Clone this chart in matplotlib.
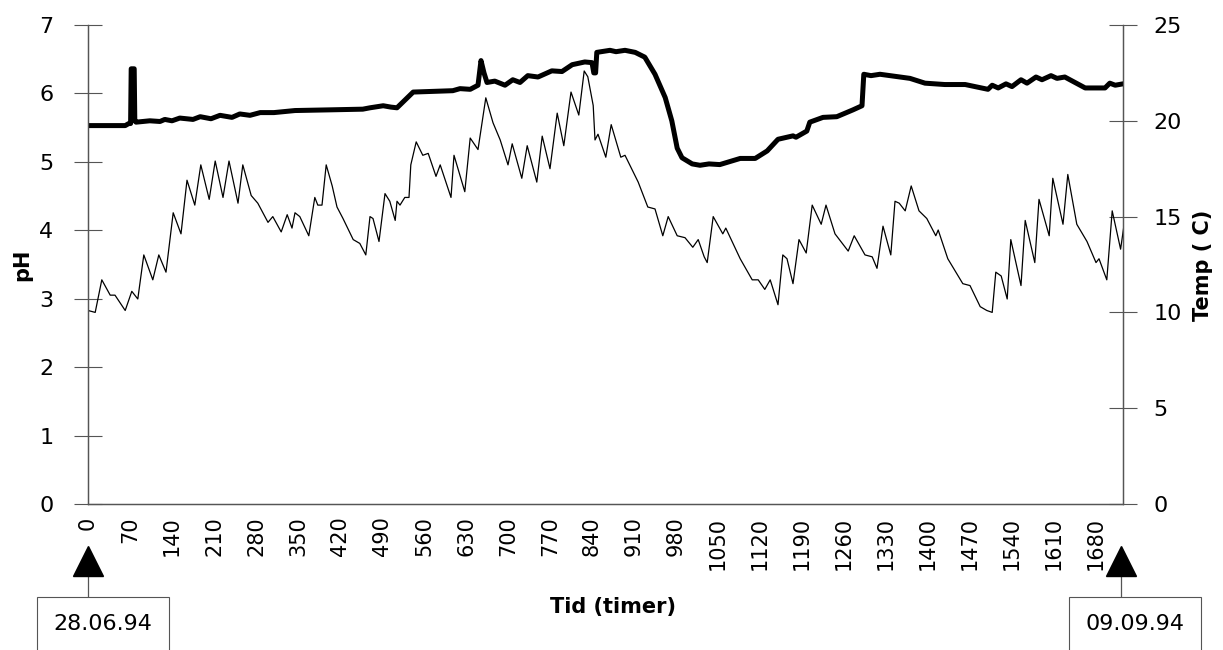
import matplotlib
matplotlib.use("Agg")
import matplotlib.pyplot as plt
import matplotlib.transforms as mtransforms

# ---- data -------------------------------------------------------------
ph_hours = [0, 62, 68, 71, 72, 77, 78, 80, 103, 120, 128, 140, 153, 175, 187, 205,
            220, 240, 253, 270, 287, 310, 345, 403, 458, 470, 492, 505, 515, 542,
            608, 620, 637, 650, 655, 660, 665, 678, 695, 708, 720, 733, 750, 773,
            790, 807, 828, 840, 843, 846, 848, 870, 880, 895, 912, 928, 945, 962,
            973, 982, 990, 1007, 1020, 1035, 1053, 1087, 1112, 1132, 1150, 1175,
            1180, 1198, 1203, 1225, 1248, 1275, 1290, 1293, 1305, 1320, 1370, 1395,
            1428, 1462, 1500, 1507, 1517, 1530, 1540, 1555, 1565, 1580, 1590, 1605,
            1615, 1628, 1645, 1662, 1695, 1703, 1712, 1725]
ph_values = [5.53, 5.53, 5.56, 5.56, 6.36, 6.36, 5.6, 5.58, 5.6, 5.59, 5.62, 5.6,
             5.64, 5.62, 5.66, 5.63, 5.68, 5.65, 5.7, 5.68, 5.72, 5.72, 5.75, 5.76,
             5.77, 5.79, 5.82, 5.8, 5.79, 6.02, 6.04, 6.07, 6.06, 6.12, 6.48, 6.3,
             6.16, 6.18, 6.12, 6.2, 6.16, 6.26, 6.24, 6.33, 6.32, 6.42, 6.46, 6.45,
             6.3, 6.3, 6.6, 6.63, 6.61, 6.63, 6.6, 6.53, 6.28, 5.94, 5.6, 5.2, 5.06,
             4.97, 4.95, 4.97, 4.96, 5.05, 5.05, 5.16, 5.33, 5.38, 5.36, 5.45, 5.58,
             5.65, 5.66, 5.76, 5.82, 6.28, 6.26, 6.28, 6.22, 6.15, 6.13, 6.13, 6.06,
             6.12, 6.08, 6.14, 6.1, 6.2, 6.15, 6.24, 6.2, 6.26, 6.22, 6.24, 6.16,
             6.08, 6.08, 6.15, 6.12, 6.14]

temp_hours = [0, 12, 23, 37, 45, 62, 73, 83, 93, 108, 118, 130, 142, 155, 165, 178,
              188, 202, 212, 225, 235, 250, 258, 272, 283, 300, 308, 322, 332, 340,
              345, 353, 362, 368, 378, 383, 390, 397, 407, 415, 425, 442, 453, 463,
              470, 475, 485, 495, 503, 512, 515, 520, 528, 535, 538, 547, 558, 567,
              580, 587, 605, 610, 628, 637, 650, 663, 675, 687, 700, 707, 723, 732,
              748, 757, 770, 782, 793, 805, 818, 827, 833, 842, 845, 850, 863, 872,
              888, 895, 917, 933, 945, 958, 967, 982, 995, 1008, 1017, 1027, 1032,
              1042, 1058, 1063, 1087, 1107, 1117, 1128, 1137, 1150, 1158, 1165, 1175,
              1185, 1197, 1207, 1222, 1230, 1245, 1267, 1277, 1295, 1307, 1315, 1325,
              1338, 1345, 1352, 1362, 1372, 1385, 1398, 1413, 1417, 1433, 1458, 1470,
              1487, 1498, 1507, 1513, 1522, 1532, 1538, 1555, 1562, 1578, 1585, 1602,
              1608, 1625, 1633, 1648, 1665, 1680, 1685, 1698, 1707, 1721, 1726]
temp_values = [10.1, 10.0, 11.7, 10.9, 10.9, 10.1, 11.1, 10.7, 13.0, 11.7, 13.0, 12.1,
               15.2, 14.1, 16.9, 15.6, 17.7, 15.9, 17.9, 16.0, 17.9, 15.7, 17.7, 16.1,
               15.7, 14.7, 15.0, 14.2, 15.1, 14.4, 15.2, 15.0, 14.4, 14.0, 16.0, 15.6,
               15.6, 17.7, 16.6, 15.5, 14.9, 13.8, 13.6, 13.0, 15.0, 14.9, 13.7, 16.2,
               15.8, 14.8, 15.8, 15.6, 16.0, 16.0, 17.7, 18.9, 18.2, 18.3, 17.1, 17.7,
               16.0, 18.2, 16.3, 19.1, 18.5, 21.2, 19.9, 19.0, 17.7, 18.8, 17.0, 18.7,
               16.8, 19.2, 17.5, 20.4, 18.7, 21.5, 20.3, 22.6, 22.3, 20.8, 19.0, 19.3,
               18.1, 19.8, 18.1, 18.2, 16.8, 15.5, 15.4, 14.0, 15.0, 14.0, 13.9, 13.4,
               13.8, 12.9, 12.6, 15.0, 14.1, 14.4, 12.8, 11.7, 11.7, 11.2, 11.7, 10.4,
               13.0, 12.8, 11.5, 13.8, 13.1, 15.6, 14.6, 15.6, 14.1, 13.2, 14.0, 13.0,
               12.9, 12.3, 14.5, 13.0, 15.8, 15.7, 15.3, 16.6, 15.3, 14.9, 14.0, 14.3,
               12.8, 11.5, 11.4, 10.3, 10.1, 10.0, 12.1, 11.9, 10.7, 13.8, 11.4, 14.8,
               12.6, 15.9, 14.0, 17.0, 14.6, 17.2, 14.6, 13.7, 12.6, 12.8, 11.7, 15.3,
               13.3, 14.4]

x_ticks = list(range(0, 1681, 70))
ph_ticks = [0, 1, 2, 3, 4, 5, 6, 7]
temp_ticks = [0, 5, 10, 15, 20, 25]
start_label = "28.06.94"
end_label = "09.09.94"

# ---- figure -----------------------------------------------------------
W, H = 1223, 650
fig = plt.figure(figsize=(W / 100, H / 100), dpi=100)
plt.rcParams['font.family'] = ['DejaVu Sans']

left_px, right_px, top_px, bottom_px = 88, 1123, 25, 504
ax = fig.add_axes([left_px / W, 1 - bottom_px / H,
                   (right_px - left_px) / W, (bottom_px - top_px) / H])
ax2 = ax.twinx()

spine_col = '#555555'
ax.plot(ph_hours, ph_values, color='black', lw=3.6, solid_joinstyle='round',
        solid_capstyle='round', zorder=3)
ax2.plot(temp_hours, temp_values, color='black', lw=0.9, zorder=2)

ax.set_xlim(0, 1725)
ax.set_ylim(0, 7)
ax2.set_ylim(0, 25)

ax.set_xticks(x_ticks)
ax.set_xticklabels([str(t) for t in x_ticks], rotation=90, fontsize=15)
ax.tick_params(axis='x', length=0, pad=9)
ax.set_yticks(ph_ticks)
ax.tick_params(axis='y', direction='inout', length=20, width=0.8, color=spine_col,
               labelsize=16, pad=15)
ax2.set_yticks(temp_ticks)
ax2.tick_params(axis='y', direction='inout', length=20, width=0.8, color=spine_col,
                labelsize=16, pad=12)

for a in (ax, ax2):
    a.spines['top'].set_visible(False)
    for s in ('left', 'right', 'bottom'):
        a.spines[s].set_color(spine_col)
        a.spines[s].set_linewidth(0.9)

fig.text(22 / W, 1 - 265 / H, 'pH', rotation=90, ha='center', va='center',
         fontsize=15, fontweight='bold')
fig.text(1203 / W, 1 - 265 / H, 'Temp ( C)', rotation=90, ha='center', va='center',
         fontsize=15, fontweight='bold')
fig.text(613 / W, 1 - 607 / H, 'Tid (timer)', ha='center', va='center',
         fontsize=15, fontweight='bold')

# date markers below the axis
blend = mtransforms.blended_transform_factory(ax.transData, fig.transFigure)
for hx, txt, tx in ((0, start_label, 25), (1721, end_label, 1745)):
    ax.plot([hx, hx], [1 - 570 / H, 1 - 598 / H], transform=blend, color=spine_col,
            lw=0.9, clip_on=False)
    ax.plot([hx], [1 - 561 / H], transform=blend, marker='^', markersize=22,
            color='black', clip_on=False, linestyle='none')
    ax.text(tx, 1 - 624 / H, txt, transform=blend,
            ha='center', va='center', fontsize=16, clip_on=False,
            bbox=dict(boxstyle='square,pad=0.75', fc='white', ec=spine_col, lw=0.8))

fig.savefig('out.png', dpi=100)
